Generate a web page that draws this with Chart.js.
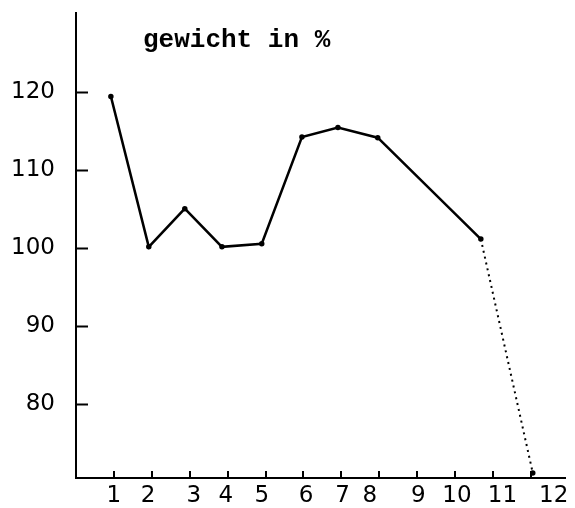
<!DOCTYPE html>
<html lang="de">
<head>
    <meta charset="UTF-8">
    <title>gewicht in %</title>
    <script src="https://cdn.jsdelivr.net/npm/chart.js"></script>
    <style>
        body { margin: 0; background: #fff; }
    </style>
</head>
<body>
    <div style="width: 575px; height: 508px;">
        <canvas id="grafik"></canvas>
    </div>
    <script>
        // werte
        const monat = [0.92, 1.92, 2.87, 3.85, 4.9, 5.96, 6.91, 7.96, 10.68, 12.05]
        const gewicht = [119.5, 100.2, 105.1, 100.2, 100.6, 114.3, 115.5, 114.2, 101.2, 71.2]
        const xTicks = [1, 2, 3, 4, 5, 6, 7, 8, 9, 10, 11, 12]
        const yTicks = [80, 90, 100, 110, 120]
        const titel = 'gewicht in %'

        const punkte = monat.map((m, i) => ({ x: m, y: gewicht[i] }))
        const letzter = punkte.length - 1

        // die getippten zahlen stehen nicht genau unter den strichen
        const tippVersatz = [0, -0.1, 0.11, -0.05, -0.1, 0.07, 0.03, -0.25, 0.03, 0.05, 0.25, 0.6]

        // titel oben links im diagramm (schreibmaschine) + striche nach innen an der x-achse
        const extras = {
            id: 'extras',
            afterDraw(chart) {
                const c = chart.ctx
                const sx = chart.scales.x
                c.save()
                c.strokeStyle = '#000'
                c.lineWidth = 2
                xTicks.forEach(v => {
                    const px = Math.round(sx.getPixelForValue(v))
                    c.beginPath()
                    c.moveTo(px, sx.top)
                    c.lineTo(px, sx.top - 7)
                    c.stroke()
                })
                c.font = 'bold 26px "Liberation Mono"'
                c.fillStyle = '#000'
                c.textBaseline = 'alphabetic'
                c.fillText(titel, chart.chartArea.left + 67, chart.chartArea.top + 34)
                c.restore()
            }
        }

        const schrift = { family: 'DejaVu Sans', size: 23 }
        const keinRand = s => { s.paddingTop = 0; s.paddingBottom = 0; s.paddingLeft = 0; s.paddingRight = 0 }

        new Chart(document.getElementById('grafik'), {
            type: 'line',
            data: {
                datasets: [{
                    data: punkte,
                    borderColor: '#000',
                    backgroundColor: '#000',
                    borderWidth: 2.5,
                    tension: 0,
                    pointRadius: 1.5,
                    pointHoverRadius: 1.5,
                    segment: {
                        borderDash: ctx => ctx.p1DataIndex === letzter ? [2, 4] : undefined,
                        borderWidth: ctx => ctx.p1DataIndex === letzter ? 2 : undefined
                    }
                }]
            },
            options: {
                responsive: true,
                maintainAspectRatio: false,
                animation: false,
                layout: { padding: { top: 13, right: 10, left: 0, bottom: 0 } },
                plugins: {
                    legend: { display: false },
                    tooltip: { enabled: false }
                },
                scales: {
                    x: {
                        type: 'linear',
                        min: 0,
                        max: 12.9,
                        afterBuildTicks: s => { s.ticks = xTicks.map((v, i) => ({ value: v + tippVersatz[i] })) },
                        afterFit: s => { s.height = 30; keinRand(s) },
                        border: { color: '#000', width: 2 },
                        grid: { display: false },
                        ticks: {
                            color: '#000', font: schrift, padding: -4, maxRotation: 0, autoSkip: false,
                            callback: (val, i) => String(xTicks[i])
                        }
                    },
                    y: {
                        min: 70.55,
                        max: 130.2,
                        afterBuildTicks: s => { s.ticks = yTicks.map(v => ({ value: v })) },
                        afterFit: s => { s.width = 76; keinRand(s) },
                        border: { color: '#000', width: 2 },
                        grid: { drawOnChartArea: false, tickLength: -12, tickWidth: 2, tickColor: '#000' },
                        ticks: { color: '#000', font: schrift, padding: 33 }
                    }
                }
            },
            plugins: [extras]
        })
    </script>
</body>
</html>
